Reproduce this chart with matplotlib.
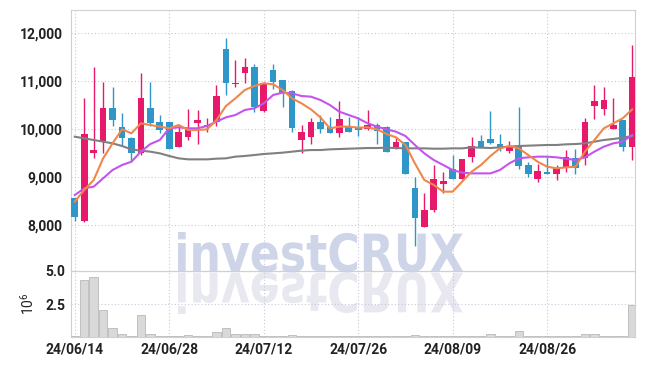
import matplotlib
matplotlib.use('Agg')
import matplotlib.pyplot as plt
from matplotlib.textpath import TextPath
from matplotlib.patches import PathPatch
from matplotlib.font_manager import FontProperties
from matplotlib.transforms import Affine2D

plt.rcParams['font.family'] = ['Roboto', 'DejaVu Sans']
plt.rcParams['font.weight'] = 'bold'

# daily candles 24/06/14 .. 24/09/06
tick_idx = [0, 10, 20, 30, 40, 50]
tick_labels = ['24/06/14', '24/06/28', '24/07/12', '24/07/26', '24/08/09', '24/08/26']

opens = [8560, 8090, 9510, 9760, 10440, 10040, 9820, 9510, 10440, 10150,
         10150, 9640, 9830, 10140, 10060, 10160, 11670, 10950, 11170, 11290,
         10390, 11240, 11030, 10800, 9780, 9850, 10150, 10040, 9920, 10040,
         10040, 10000, 10100, 10040, 9600, 9730, 8770, 7970, 8320, 8860,
         9170, 8970, 9430, 9760, 9800, 9690, 9540, 9650, 9260, 8970,
         9120, 9080, 9190, 9400, 9400, 10490, 10420, 10010, 10190, 9630]
highs = [8560, 10650, 11300, 10990, 10890, 10330, 9830, 11170, 10990, 10300,
         10160, 10060, 10420, 10400, 10230, 10920, 11900, 11440, 11490, 11370,
         10980, 11370, 11030, 10820, 10080, 10230, 10290, 10250, 10600, 10250,
         10260, 10400, 10140, 10070, 9830, 9730, 9010, 8680, 9260, 9120,
         9470, 9380, 9830, 9880, 10380, 9900, 9760, 10460, 9330, 9270,
         9430, 9260, 9570, 9600, 10230, 10920, 10890, 10650, 10190, 11760]
lows = [8100, 8080, 9400, 9510, 10060, 9650, 9350, 9470, 10060, 9920,
        9600, 9630, 9780, 9690, 9940, 10060, 10720, 10890, 10960, 10370,
        10370, 10850, 10470, 9950, 9500, 9690, 9920, 9920, 9830, 9940,
        9870, 9990, 9690, 9530, 9600, 9080, 7570, 7970, 8270, 8670,
        8970, 8970, 9330, 9630, 9690, 9540, 9510, 9170, 9010, 8900,
        9080, 8940, 9120, 9080, 9260, 10210, 10290, 10010, 9540, 9360]
closes = [8180, 9900, 9570, 10440, 10190, 9810, 9510, 10650, 10140, 9990,
          9600, 9940, 9990, 10190, 10100, 10690, 10970, 10970, 11290, 10470,
          10960, 10990, 10750, 10020, 9940, 10150, 10000, 9920, 10210, 9940,
          9990, 10100, 9970, 9530, 9730, 9080, 8150, 8330, 8960, 8920,
          8970, 9380, 9650, 9630, 9710, 9630, 9630, 9240, 9080, 9130,
          9080, 9190, 9420, 9190, 10150, 10590, 10610, 10080, 9630, 11080]

# moving averages as shown on the chart
ma5 = [8494, 8737, 8945, 9396, 9708, 10000, 9917, 10125, 10090, 10056,
       10021, 10090, 9986, 9986, 10000, 10194, 10486, 10645, 10819, 10903,
       10958, 10937, 10819, 10645, 10541, 10416, 10250, 10021, 10056, 10056,
       10035, 10042, 10000, 9903, 9833, 9674, 9292, 8945, 8841, 8702,
       8702, 8910, 9118, 9257, 9445, 9604, 9653, 9604, 9465, 9326,
       9222, 9188, 9208, 9222, 9535, 9778, 10021, 10125, 10229, 10416]
ma10 = [8632, 8771, 8806, 8980, 9153, 9257, 9326, 9535, 9694, 9778,
        10021, 10042, 10021, 10021, 10069, 10160, 10250, 10298, 10403, 10437,
        10541, 10715, 10764, 10750, 10694, 10680, 10611, 10507, 10368, 10298,
        10229, 10125, 10056, 10000, 9951, 9861, 9674, 9500, 9361, 9257,
        9153, 9097, 9083, 9083, 9083, 9153, 9292, 9396, 9417, 9431,
        9431, 9417, 9389, 9361, 9417, 9535, 9639, 9708, 9743, 9882]
ma60 = [9847, 9812, 9778, 9743, 9708, 9653, 9583, 9556, 9535, 9500,
        9445, 9396, 9375, 9375, 9375, 9389, 9396, 9431, 9445, 9465,
        9486, 9500, 9514, 9535, 9556, 9569, 9569, 9583, 9590, 9597,
        9604, 9611, 9611, 9618, 9611, 9604, 9604, 9604, 9597, 9597,
        9604, 9604, 9625, 9618, 9611, 9625, 9639, 9653, 9660, 9667,
        9674, 9674, 9688, 9694, 9708, 9743, 9778, 9799, 9826, 9861]

# volume in millions
volumes = [0.05, 4.34, 4.55, 2.08, 0.65, 0.26, 0.10, 1.69, 0.26, 0.10,
           0.10, 0.10, 0.18, 0.10, 0.05, 0.36, 0.65, 0.26, 0.26, 0.26,
           0.10, 0.10, 0.05, 0.12, 0.05, 0.05, 0.06, 0.10, 0.06, 0.05,
           0.04, 0.05, 0.08, 0.10, 0.05, 0.07, 0.12, 0.08, 0.05, 0.04,
           0.05, 0.05, 0.06, 0.05, 0.26, 0.10, 0.07, 0.44, 0.10, 0.05,
           0.04, 0.05, 0.06, 0.08, 0.26, 0.26, 0.10, 0.05, 0.06, 2.39]

UP = '#e6196b'
DOWN = '#2e96c8'
GRID = '#c8c8dc'

fig = plt.figure(figsize=(6.45, 3.66), dpi=100)
ax = fig.add_axes([71 / 645, 95 / 366, 564 / 645, 261 / 366])
axv = fig.add_axes([71 / 645, 29 / 366, 564 / 645, 66 / 366], sharex=ax)
for a in (ax, axv):
    a.set_facecolor('none')
    for s in a.spines.values():
        s.set_color('#d0d0d0')
        s.set_linewidth(0.8)
    a.grid(color=GRID, linestyle=(0, (1, 2)), linewidth=0.8)
    a.set_axisbelow(True)
    a.tick_params(length=0, labelsize=10, colors='#222222')

x = list(range(len(closes)))
for i in x:
    o, h, l, c = opens[i], highs[i], lows[i], closes[i]
    col = UP if c >= o else DOWN
    ax.vlines(i, l, h, color=col, linewidth=1, zorder=3)
    body = max(abs(c - o), 20)
    ax.bar(i, body, bottom=min(o, c), width=0.7, color=col, zorder=4)

ax.plot(x, ma60, color='#808080', linewidth=1.5, zorder=5)
ax.plot(x, ma10, color='#c455ec', linewidth=1.5, zorder=5)
ax.plot(x, ma5, color='#f0874a', linewidth=1.5, zorder=5)

ax.set_ylim(7050, 12485)
ax.set_xlim(-0.4, 59.3)
ax.set_yticks([8000, 9000, 10000, 11000, 12000])
ax.set_yticklabels(['8,000', '9,000', '10,000', '11,000', '12,000'])
ax.tick_params(labelbottom=False, pad=6)

axv.bar(x, volumes, width=0.9, color='#d9d9d9', edgecolor='#b9b9b9', linewidth=0.6, zorder=3)
axv.set_ylim(0, 5.0)
axv.set_yticks([2.5, 5.0])
axv.set_yticklabels(['2.5', '5.0'])
axv.set_ylabel('$\\mathregular{10^6}$', fontsize=10, color='#222222',
               fontweight='normal', labelpad=6)
axv.set_xticks(tick_idx)
axv.set_xticklabels(tick_labels)
axv.tick_params(pad=4)

# watermark with reflection
fp = FontProperties(family='DejaVu Sans', weight='bold')
tp = TextPath((0, 0), 'investCRUX', size=50, prop=fp)
ext = tp.get_extents()
sx = (463 - 178) / ext.width
sy = (272 - 232) / ext.height
base = Affine2D().translate(-ext.x0, -ext.y0)
wm = PathPatch(tp, facecolor='#cfd5e8', edgecolor='none', zorder=-1,
               transform=base + Affine2D().scale(sx, sy).translate(178, 94))
refl = PathPatch(tp, facecolor='#e8e8f1', edgecolor='none', zorder=-1,
                 transform=base + Affine2D().scale(sx, -sy * 1.05).translate(178, 94))
fig.add_artist(refl)
fig.add_artist(wm)

plt.savefig('out.png', dpi=100)
plt.close()
